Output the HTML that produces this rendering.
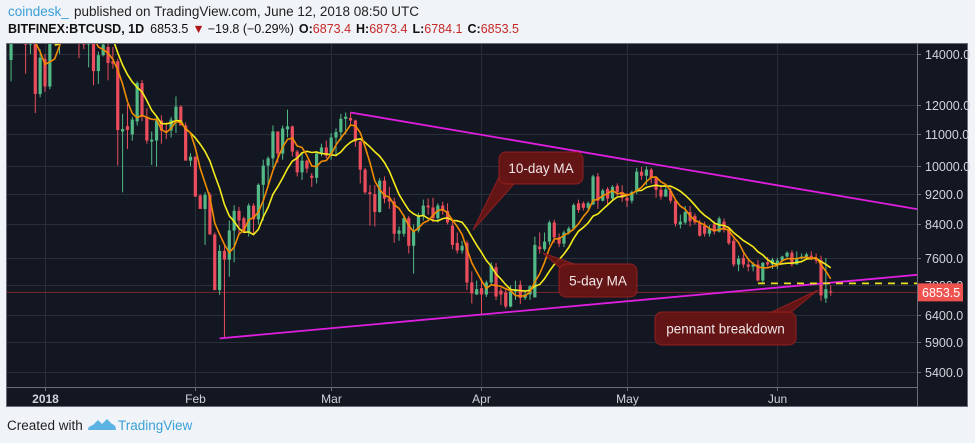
<!DOCTYPE html>
<html><head><meta charset="utf-8"><style>
html,body{margin:0;padding:0;background:#f0f3f7;width:975px;height:443px;overflow:hidden}
svg{display:block}
text{font-family:"Liberation Sans",sans-serif}
</style></head><body>
<svg id="c" width="975" height="443" viewBox="0 0 975 443" xmlns="http://www.w3.org/2000/svg">
<rect x="0" y="0" width="975" height="443" fill="#f0f3f7"/>
<text x="8" y="16" font-size="13.5" fill="#3aa0d8">coindesk_</text>
<text x="74" y="16" font-size="13.5" fill="#222">published on TradingView.com, June 12, 2018 08:50 UTC</text>
<text x="8" y="33" font-size="12.5" fill="#111"><tspan font-weight="bold">BITFINEX:BTCUSD, 1D</tspan><tspan dx="6">6853.5</tspan><tspan fill="#b01818" dx="4">▼</tspan><tspan dx="3">−19.8 (−0.29%)</tspan><tspan font-weight="bold" dx="5">O:</tspan><tspan fill="#c62828">6873.4</tspan><tspan font-weight="bold" dx="5">H:</tspan><tspan fill="#c62828">6873.4</tspan><tspan font-weight="bold" dx="5">L:</tspan><tspan fill="#c62828">6784.1</tspan><tspan font-weight="bold" dx="5">C:</tspan><tspan fill="#c62828">6853.5</tspan></text>
<rect x="6.5" y="43.5" width="961" height="363" fill="#131722" stroke="#6a6d78"/>
<g id="grid"></g>
<g id="plot" clip-path="url(#clip)"></g>
<defs><clipPath id="clip"><rect x="7" y="44" width="910" height="343"/></clipPath></defs>
<line x1="917.5" y1="44" x2="917.5" y2="406" stroke="#6a6d78"/>
<line x1="7" y1="387.5" x2="917" y2="387.5" stroke="#6a6d78"/>
<g id="axes"></g>
<g id="notes"></g>
<text x="7" y="430" font-size="13.5" fill="#222">Created with</text>
<g>
<path d="M88 430 q0 -4 5 -5 l5 -5 l4 4 l5 -5 l5 5 q4 1 4 6 z" fill="#5ab3e3"/>
<path d="M90 426 l8 -8 l4 4 l5 -5 l7 7" fill="none" stroke="#f0f3f7" stroke-width="1.5"/>
</g>
<text x="118" y="430" font-size="13.5" fill="#3aa0d8">TradingView</text>
</svg>
<script>
const NS="http://www.w3.org/2000/svg";
// Daily candles starting Dec 25, 2017 (day index -7) through Jun 12, 2018
const startDay=-7;
const opens=[13750,14700,15900,15300,14400,14500,12420,13800,12700,14900,15100,15200,17000,17100,16200,14950,14400,14900,13300,13950,14300,13700,13700,11100,11280,11000,11440,12830,11600,10770,10800,11470,11130,11130,11500,11960,11300,10170,10290,9160,8800,9180,8150,6900,7760,7560,8250,8750,8560,8200,8890,8530,9460,10020,10240,11100,10390,11170,11270,10450,9820,10170,9720,9660,10390,10580,10320,10900,11080,11530,11560,11470,10770,9900,9250,9200,8720,9580,9080,9000,8170,8170,8560,7880,8250,8620,8890,8840,8560,8890,8750,8370,7950,7770,7950,7060,6810,6940,6810,7060,7390,6890,6850,6570,6870,7010,6740,6810,6750,7860,7800,7980,8450,8080,7930,8200,8300,8950,8950,8830,8920,9700,9020,9340,9080,9430,9260,9100,9020,9260,9840,9720,9900,9660,9320,9130,9290,9020,8400,8450,8720,8620,8450,8370,8170,8400,8220,8470,8300,8000,7450,7600,7450,7400,7450,7100,7500,7450,7430,7540,7630,7720,7450,7590,7630,7650,7590,7540,6730,6873];
const closes=[14700,15900,15300,14400,14500,12420,13850,12700,14900,15100,15200,17000,17100,16200,14950,14400,14900,13300,13950,14400,13630,13600,11150,11180,11150,11500,12830,11600,10800,10830,11470,11130,11100,11500,11960,11300,10170,10290,9130,8800,9180,8150,6900,7760,7560,8250,8750,8500,8200,8890,8530,9460,10020,10240,11100,10390,11200,11270,10450,9820,10170,9930,9660,10390,10580,10320,10900,11080,11530,11600,11470,10770,9900,9250,9200,8720,9580,9080,9000,8170,8250,8560,7880,8250,8620,8890,8840,8560,8890,8750,8450,7900,7770,7880,7060,6830,6920,6810,7060,7430,6770,6810,6570,6870,6920,6740,6810,6980,7900,7800,7980,8450,8080,7930,8200,8300,8900,8770,8830,8950,9700,9020,9300,9080,9400,9260,9100,9020,9260,9840,9720,9900,9660,9320,9130,9330,9020,8420,8470,8720,8480,8450,8120,8170,8280,8220,8550,8270,7940,7450,7580,7450,7400,7450,7100,7490,7450,7560,7540,7630,7720,7450,7590,7630,7680,7590,7540,6790,6920,6853.5];
const highs=[15000,16500,16400,15400,15100,14700,14200,14000,15300,15500,15400,17100,17300,17200,16300,15400,14950,14950,14100,14600,14500,14300,13800,11700,12050,11600,12900,12950,11900,11100,11600,11650,11400,11600,12330,12000,11400,10400,10300,9200,9250,9250,8200,7900,7900,8500,8900,8850,8600,8950,8950,9500,10200,10300,11300,11100,11300,11850,11300,10500,10400,10200,9800,10450,10700,10800,11050,11200,11700,11750,11750,11500,10800,9950,9450,9450,9650,9700,9400,9100,8350,8650,8620,8400,8700,9050,9080,9100,8950,8990,8950,8500,8200,8000,8000,7300,7100,7150,7100,7500,7480,6950,6950,7000,7100,7100,6900,7000,8100,8200,8200,8500,8520,8180,8250,8350,8950,9050,9000,9000,9750,9800,9350,9400,9450,9500,9450,9230,9300,9950,9980,10000,9950,9700,9450,9420,9380,9050,8650,8880,8880,8680,8520,8470,8380,8480,8600,8550,8330,8050,7650,7700,7600,7500,7550,7500,7620,7600,7600,7650,7750,7780,7750,7700,7720,7750,7700,7650,7600,7000,6900];
const lows=[12900,14600,14600,13200,14000,11730,12300,12500,12600,14600,14000,14900,16200,15800,13830,14200,13450,12750,12800,13900,12940,13400,10020,9250,10530,10800,11300,11450,10700,10040,9990,10700,10850,10900,11050,11500,11200,10000,9800,8900,7900,8150,7950,6800,5970,7180,7500,8150,8350,8100,8150,8400,8500,9400,9950,10100,10200,10900,10300,9700,9600,9800,9400,9500,10300,10250,10200,10300,10800,11000,11300,10600,9500,9200,8370,8350,8700,8950,8800,7950,8000,8100,7700,7250,8200,8500,8650,8450,8450,8650,8400,7800,7700,7700,6900,6630,6800,6420,6760,7000,6700,6600,6530,6550,6700,6620,6700,6700,6800,7700,7750,7900,7950,7850,7850,8150,8250,8700,8760,8770,8900,8800,9000,8900,9050,9150,8990,8850,8950,9200,9600,9450,9500,9100,9050,9150,8950,8350,8300,8400,8350,8400,8100,8100,8100,8150,8200,8200,7900,7400,7300,7380,7300,7300,7080,7060,7400,7350,7350,7500,7600,7400,7450,7560,7580,7550,7470,6680,6640,6784];
const yTicks=[14000,12000,11000,10000,9200,8400,7600,7000,6400,5900,5400];
const yTickLabels=["14000.0","12000.0","11000.0","10000.0","9200.0","8400.0","7600.0","7000.0","6400.0","5900.0","5400.0"];
const monthDays=[0,31,59,90,120,151];
const monthLabels=["2018","Feb","Mar","Apr","May","Jun"];
const lastPrice=6853.5;
// trendline anchors: [dayIndex, price]
const upperTrend=[[63,11750],[180.5,8780]];
const lowerTrend=[[36,5970],[180.5,7230]];
const supportLevel=7040, supportFromDay=147;

const X0=45, DX=4.85, Y0=54, LN0=Math.log(14000), K=333.7;
const xS=d=>X0+d*DX;
const yS=p=>Y0+(LN0-Math.log(p))*K;
function el(tag,attrs,parent){const e=document.createElementNS(NS,tag);for(const k in attrs)e.setAttribute(k,attrs[k]);parent.appendChild(e);return e;}
const grid=document.getElementById('grid'),plot=document.getElementById('plot'),axes=document.getElementById('axes'),notes=document.getElementById('notes');

yTicks.forEach((v,i)=>{const y=Math.round(yS(v))+0.5;
 const g=el('line',{x1:7,x2:917,y1:y,y2:y,stroke:'#2a2e3a'},grid);
 
 
 const t=el('line',{x1:917,x2:921,y1:y,y2:y,stroke:'#6a6d78'},axes);
 
 
 const l=el('text',{x:925,y:y+4.5,'font-size':12.5,fill:'#d1d4dc'},axes);l.textContent=yTickLabels[i];
 
 
});
monthDays.forEach((d,i)=>{const x=Math.round(xS(d))+0.5;
 const g=el('line',{x1:x,x2:x,y1:44,y2:387,stroke:'#2a2e3a'},grid);
 
 
 const t=el('line',{x1:x,x2:x,y1:387,y2:391,stroke:'#6a6d78'},axes);
 
 
 const l=el('text',{x:x,y:403,'font-size':12,fill:'#d1d4dc','text-anchor':'middle','font-weight':i===0?'bold':'normal'},axes);l.textContent=monthLabels[i];
 
 
});

// last price line
const ly=yS(lastPrice);
const pl=el('line',{x1:7,x2:917,y1:ly,y2:ly,stroke:'#7a2a2e','stroke-width':1},plot);



// candles
opens.forEach((o,i)=>{const c=closes[i],d=startDay+i,x=xS(d);const up=c>=o;const col=up?'#53b987':'#eb4d5c';
 const g=el('g',{},plot);
 
 
 el('line',{x1:x,x2:x,y1:yS(highs[i]),y2:yS(lows[i]),stroke:col,'stroke-width':1},g);
 const yt=yS(Math.max(o,c)),yb=yS(Math.min(o,c));
 el('rect',{x:x-1.6,y:yt,width:3.2,height:Math.max(1,yb-yt),fill:col},g);
});

// moving averages
function ma(n){const pts=[];for(let i=n-1;i<closes.length;i++){let s=0;for(let j=0;j<n;j++)s+=closes[i-j];pts.push(xS(startDay+i).toFixed(1)+','+yS(s/n).toFixed(1));}return pts.join(' ');}
const m10=el('polyline',{points:ma(10),fill:'none',stroke:'#f5eb1a','stroke-width':1.6},plot);


const m5=el('polyline',{points:ma(5),fill:'none',stroke:'#f08c00','stroke-width':1.6},plot);



// trendlines
[[upperTrend,'upper-trendline'],[lowerTrend,'lower-trendline']].forEach(([t,n])=>{
 const l=el('line',{x1:xS(t[0][0]),y1:yS(t[0][1]),x2:xS(t[1][0]),y2:yS(t[1][1]),stroke:'#e01ee0','stroke-width':1.8},plot);
 
 
});
const sl=el('line',{x1:xS(supportFromDay),x2:917,y1:yS(supportLevel),y2:yS(supportLevel),stroke:'#e8e020','stroke-width':1.8,'stroke-dasharray':'7 6'},plot);



// price label
const pb=el('rect',{x:918,y:ly-9,width:45,height:18,fill:'#ef5350'},axes);


const pt=el('text',{x:922,y:ly+4.5,'font-size':12.5,fill:'#fff'},axes);pt.textContent='6853.5';



// callouts
function callout(name,bx,by,bw,bh,txt,tri){
 const g=el('g',{},notes);
 
 
 el('polygon',{points:tri,fill:'#6a1516',stroke:'#9a2020','stroke-width':1,opacity:0.92},g);
 el('rect',{x:bx,y:by,width:bw,height:bh,rx:7,fill:'#6a1516',stroke:'#9a2020','stroke-width':1,opacity:0.92},g);
 const t=el('text',{x:bx+bw/2,y:by+bh/2+5,'font-size':13.5,fill:'#f2e6e6','text-anchor':'middle'},g);t.textContent=txt;
}
callout('callout-10-day-ma',499,152,84,32,'10-day MA','473,230 500,175 514,184');
callout('callout-5-day-ma',559,264,78,33,'5-day MA','543,253 560,268 574,264');
callout('callout-pennant-breakdown',655,312,141,33,'pennant breakdown','818,290 770,313 790,313');
</script>
</body></html>
